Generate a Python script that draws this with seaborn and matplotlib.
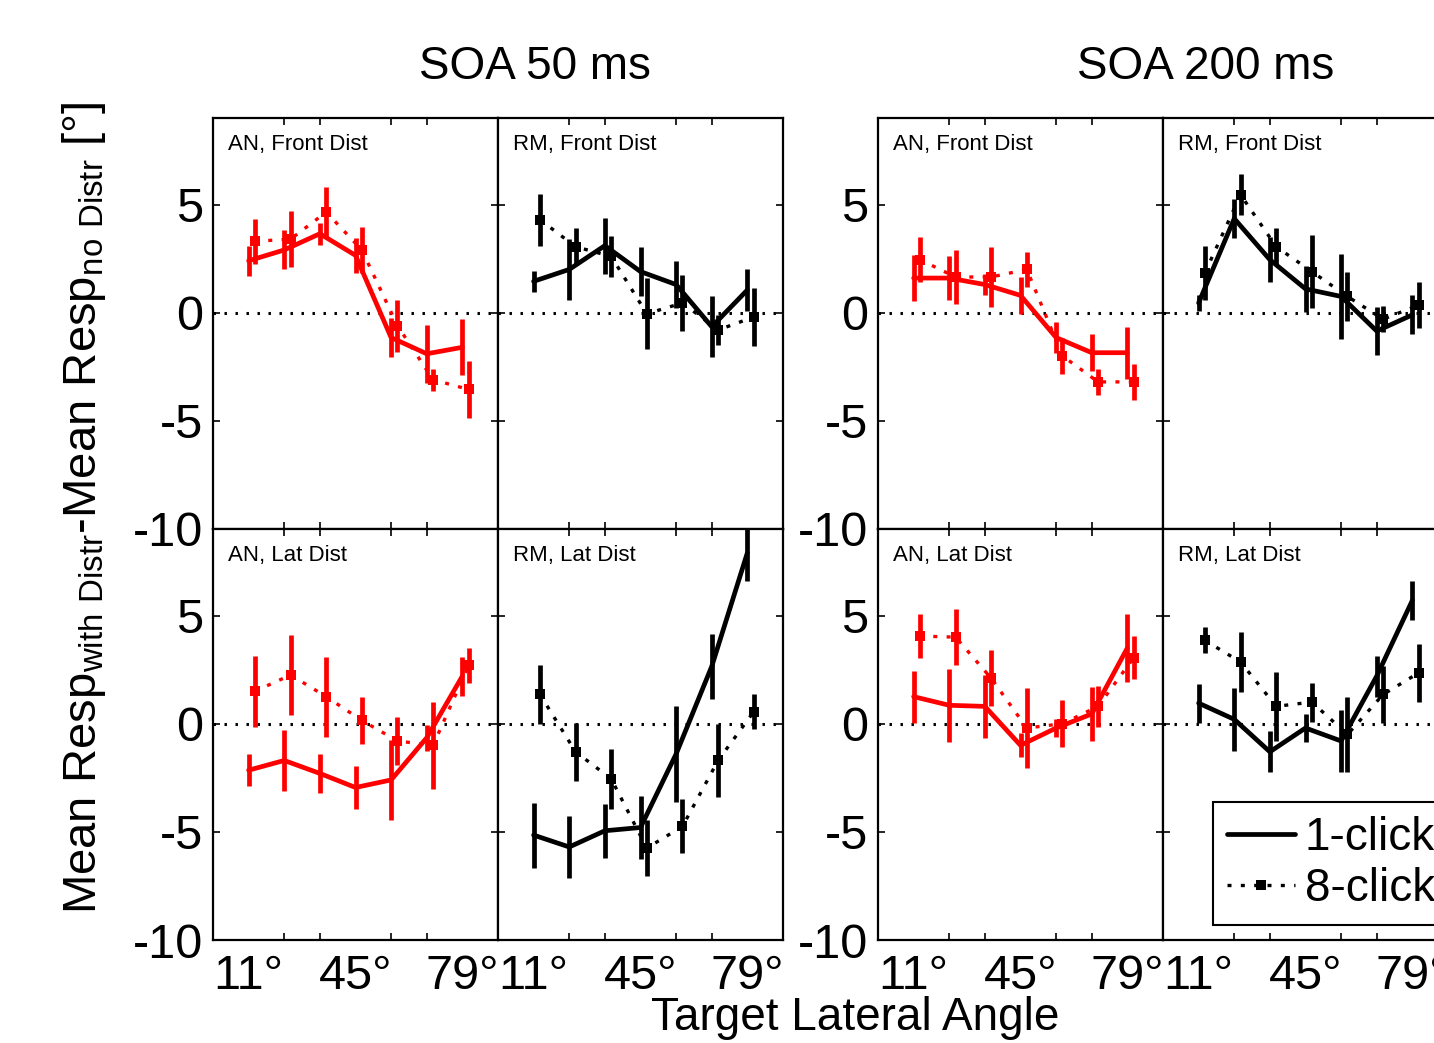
import numpy as np
import pandas as pd
import seaborn as sns
import matplotlib.pyplot as plt
from matplotlib.lines import Line2D

sns.set_theme(style="ticks")
plt.rcParams['font.family'] = ['Liberation Sans', 'DejaVu Sans']
plt.rcParams['mathtext.fontset'] = 'custom'
plt.rcParams['mathtext.rm'] = 'Liberation Sans'
plt.rcParams['text.color'] = 'black'
plt.rcParams['xtick.color'] = 'black'
plt.rcParams['ytick.color'] = 'black'
plt.rcParams['xtick.labelcolor'] = 'black'
plt.rcParams['ytick.labelcolor'] = 'black'

# target angles (deg), 8-click points are drawn slightly shifted to the right
angles = [11.25, 22.5, 33.75, 45, 56.25, 67.5, 78.75]
shift_8 = 2.0
tick_pos = [11.25, 45, 78.75]
tick_labels = ['11°', '45°', '79°']
y_ticks = [-10, -5, 0, 5]

# SOA 50 ms, AN, front distractor
s50_an_front_1 = [2.4, 2.9, 3.65, 2.65, -1.15, -1.9, -1.6]
s50_an_front_1_err = [0.7, 0.9, 0.5, 0.8, 0.9, 1.35, 1.3]
s50_an_front_8 = [3.3, 3.4, 4.65, 2.9, -0.6, -3.1, -3.55]
s50_an_front_8_err = [1.05, 1.3, 1.15, 1.05, 1.2, 0.5, 1.3]
# SOA 50 ms, RM, front distractor
s50_rm_front_1 = [1.45, 2.0, 3.1, 1.9, 1.3, -0.65, 1.05]
s50_rm_front_1_err = [0.5, 1.4, 1.3, 1.15, 1.1, 1.4, 0.95]
s50_rm_front_8 = [4.3, 3.05, 2.6, -0.05, 0.45, -0.8, -0.2]
s50_rm_front_8_err = [1.2, 0.85, 0.95, 1.65, 1.3, 0.7, 1.35]
# SOA 50 ms, AN, lateral distractor
s50_an_lat_1 = [-2.15, -1.7, -2.3, -2.95, -2.6, -0.65, 2.2]
s50_an_lat_1_err = [0.75, 1.4, 0.9, 1.0, 1.85, 0.6, 0.9]
s50_an_lat_8 = [1.5, 2.25, 1.25, 0.15, -0.8, -1.0, 2.7]
s50_an_lat_8_err = [1.65, 1.85, 1.85, 1.1, 1.1, 2.0, 0.8]
# SOA 50 ms, RM, lateral distractor
s50_rm_lat_1 = [-5.15, -5.7, -4.95, -4.8, -1.4, 2.65, 7.9]
s50_rm_lat_1_err = [1.5, 1.45, 1.25, 1.45, 2.2, 1.5, 1.3]
s50_rm_lat_8 = [1.35, -1.3, -2.55, -5.75, -4.75, -1.7, 0.55]
s50_rm_lat_8_err = [1.35, 1.35, 1.4, 1.3, 1.25, 1.7, 0.8]

# SOA 200 ms, AN, front distractor
s200_an_front_1 = [1.6, 1.6, 1.3, 0.8, -1.15, -1.85, -1.85]
s200_an_front_1_err = [1.05, 1.0, 0.5, 0.85, 0.7, 0.85, 1.2]
s200_an_front_8 = [2.45, 1.65, 1.65, 2.0, -2.0, -3.2, -3.2]
s200_an_front_8_err = [1.05, 1.25, 1.4, 0.8, 0.85, 0.6, 0.85]
# SOA 200 ms, RM, front distractor
s200_rm_front_1 = [0.45, 4.35, 2.45, 1.1, 0.75, -0.85, -0.1]
s200_rm_front_1_err = [0.35, 0.9, 1.05, 1.05, 1.95, 1.1, 0.9]
s200_rm_front_8 = [1.85, 5.45, 3.05, 1.9, 0.75, -0.3, 0.35]
s200_rm_front_8_err = [1.25, 0.95, 0.85, 1.7, 1.15, 0.6, 1.05]
# SOA 200 ms, AN, lateral distractor
s200_an_lat_1 = [1.25, 0.85, 0.8, -1.0, -0.2, 0.45, 3.5]
s200_an_lat_1_err = [1.2, 1.7, 1.45, 0.55, 0.4, 1.25, 1.55]
s200_an_lat_8 = [4.05, 4.0, 2.1, -0.2, 0.0, 0.8, 3.05]
s200_an_lat_8_err = [1.0, 1.3, 1.3, 1.85, 1.1, 0.95, 1.0]
# SOA 200 ms, RM, lateral distractor
s200_rm_lat_1 = [0.95, 0.2, -1.3, -0.2, -0.8, 2.2, 5.7]
s200_rm_lat_1_err = [0.9, 1.45, 0.95, 0.65, 1.45, 0.95, 0.9]
s200_rm_lat_8 = [3.85, 2.85, 0.8, 1.0, -0.5, 1.35, 2.35]
s200_rm_lat_8_err = [0.6, 1.4, 1.6, 0.9, 1.75, 1.3, 1.35]

panels = [
    # (left px, top px, title, colour, 1-click, err, 8-click, err)
    (213, 118, 'AN, Front Dist', 'red', s50_an_front_1, s50_an_front_1_err, s50_an_front_8, s50_an_front_8_err),
    (498, 118, 'RM, Front Dist', 'black', s50_rm_front_1, s50_rm_front_1_err, s50_rm_front_8, s50_rm_front_8_err),
    (213, 529, 'AN, Lat Dist', 'red', s50_an_lat_1, s50_an_lat_1_err, s50_an_lat_8, s50_an_lat_8_err),
    (498, 529, 'RM, Lat Dist', 'black', s50_rm_lat_1, s50_rm_lat_1_err, s50_rm_lat_8, s50_rm_lat_8_err),
    (878, 118, 'AN, Front Dist', 'red', s200_an_front_1, s200_an_front_1_err, s200_an_front_8, s200_an_front_8_err),
    (1163, 118, 'RM, Front Dist', 'black', s200_rm_front_1, s200_rm_front_1_err, s200_rm_front_8, s200_rm_front_8_err),
    (878, 529, 'AN, Lat Dist', 'red', s200_an_lat_1, s200_an_lat_1_err, s200_an_lat_8, s200_an_lat_8_err),
    (1163, 529, 'RM, Lat Dist', 'black', s200_rm_lat_1, s200_rm_lat_1_err, s200_rm_lat_8, s200_rm_lat_8_err),
]

W, H = 1434, 1043
fig = plt.figure(figsize=(W / 100, H / 100), dpi=100)
tick_font = ['Liberation Sans Narrow', 'Liberation Sans', 'DejaVu Sans']

x8 = [a + shift_8 for a in angles]
axes = []
for left, top, name, col, v1, e1, v8, e8 in panels:
    ax = fig.add_axes([left / W, 1 - (top + 411) / H, 285 / W, 411 / H])
    axes.append(ax)
    ax.axhline(0, color='black', lw=2.2, linestyle=(0, (0.8, 2.8)), zorder=1)
    df1 = pd.DataFrame({'angle': angles, 'resp': v1})
    df8 = pd.DataFrame({'angle': x8, 'resp': v8})
    sns.lineplot(data=df8, x='angle', y='resp', ax=ax, color=col, lw=2.4,
                 linestyle=(0, (1.2, 2.8)), marker='s', markersize=7,
                 markeredgewidth=0, sort=False, errorbar=None, zorder=3)
    ax.errorbar(x8, v8, yerr=e8, fmt='none', ecolor=col, elinewidth=3.4, capsize=0, zorder=3)
    sns.lineplot(data=df1, x='angle', y='resp', ax=ax, color=col, lw=3.4,
                 sort=False, errorbar=None, zorder=4)
    ax.errorbar(angles, v1, yerr=e1, fmt='none', ecolor=col, elinewidth=3.4, capsize=0, zorder=4)

    ax.set_xlim(0, 90)
    ax.set_ylim(-10, 9)
    ax.set_xticks(angles, minor=True)
    ax.set_xticks(tick_pos)
    ax.set_yticks(y_ticks)
    ax.tick_params(which='both', direction='in', top=True, right=True,
                   length=5, width=1.2, color='black')
    ax.set_xlabel('')
    ax.set_ylabel('')
    for sp in ax.spines.values():
        sp.set_linewidth(1.6)
        sp.set_color('black')
    ax.text(0.053, 0.935, name, transform=ax.transAxes, fontsize=16,
            ha='left', va='center', color='black')

    bottom_row = top > 200
    left_col = left in (213, 878)
    if bottom_row:
        ax.set_xticklabels(tick_labels, fontsize=35, family=tick_font)
        ax.tick_params(axis='x', which='major', pad=10, length=0)
    else:
        ax.set_xticklabels([])
        ax.tick_params(axis='x', which='major', length=0)
    if left_col:
        ax.set_yticklabels([str(t) for t in y_ticks], fontsize=35, family=tick_font)
        ax.tick_params(axis='y', pad=7)
    else:
        ax.set_yticklabels([])

handles = [Line2D([], [], color='black', lw=3.4),
           Line2D([], [], color='black', lw=2.4, linestyle=(0, (1.2, 2.8)),
                  marker='s', markersize=7, markeredgewidth=0)]
leg = axes[7].legend(handles, ['1-click', '8-click'], loc='upper left',
                     bbox_to_anchor=(0.175, 0.335), borderaxespad=0,
                     fontsize=33, frameon=True, fancybox=False,
                     handlelength=1.5, handletextpad=0.2, labelspacing=0.15,
                     borderpad=0.3, numpoints=1)
leg.get_frame().set_edgecolor('black')
leg.get_frame().set_linewidth(1.5)
leg.get_frame().set_alpha(1)

fig.text(535 / W, 1 - 67 / H, 'SOA 50 ms', fontsize=33, ha='center', va='center')
fig.text(1206 / W, 1 - 67 / H, 'SOA 200 ms', fontsize=33, ha='center', va='center')
fig.text(855 / W, 1 - 1018 / H, 'Target Lateral Angle', fontsize=33,
         ha='center', va='center')
fig.text(84 / W, 1 - 508 / H,
         r'Mean Resp$_{\rm with\ Distr}$-Mean Resp$_{\rm no\ Distr}$ [°]',
         fontsize=34, rotation=90, ha='center', va='center')

fig.savefig('out.png', dpi=100)
